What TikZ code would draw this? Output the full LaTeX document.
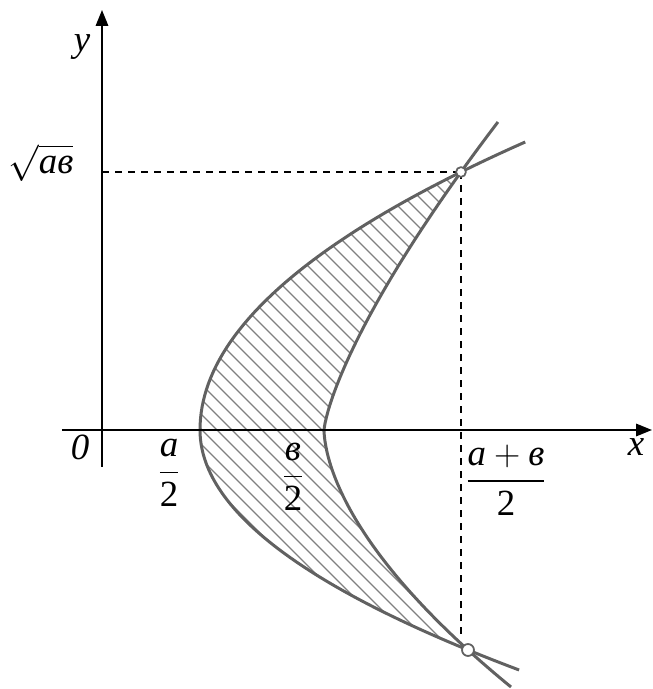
\documentclass[tikz,border=0pt]{standalone}
\usepackage{amsmath}
\usepackage{fontspec}
\setmainfont{Liberation Serif}
\usetikzlibrary{arrows.meta}
\begin{document}
\begin{tikzpicture}[x=0.02cm, y=0.02cm,
    >={Triangle[length=9pt,width=7pt]},
    axis/.style={line width=1.1pt},
    guide/.style={line width=0.8pt, dash pattern=on 4pt off 3.4pt},
    curve/.style={line width=1.7pt, draw=black!62, line join=round},
    hatch/.style={line width=0.7pt, draw=black!50},
    lbl/.style={inner sep=0pt, font=\fontsize{21}{25}\selectfont}]
  \useasboundingbox (-102,-259) rectangle (550,430);
  \coordinate (O) at (0,0);
  \coordinate (T) at (359,258);
  \coordinate (B) at (366,-220);
  \coordinate (H) at (0,258);
  \coordinate (F) at (359,-210);
  \coordinate (Ybot) at (0,-37);
  \coordinate (Ytop) at (0,420);
  \coordinate (Xleft) at (-40,0);
  \coordinate (Xright) at (550,0);

  % hatched region between the two curves
  \begin{scope}
    \clip plot[variable=\t, domain=-220:0, samples=50] ({98+55.4*(\t/100)^2},\t)
       -- plot[variable=\t, domain=0:258, samples=50] ({98+39.21*(\t/100)^2},\t)
       -- plot[variable=\t, domain=258:0.5, samples=50] ({222+38.1*(\t/100)^1.35},\t)
       -- plot[variable=\t, domain=-0.5:-220, samples=50] ({222+38.3*(abs(\t)/100)^1.68},\t)
       -- cycle;
    \foreach \c in {40,55,...,632}
      \draw[hatch] ({\c-300},300) -- ({\c+300},-300);
  \end{scope}

  % the two curves
  \draw[curve] plot[variable=\t, domain=-240:0, samples=50] ({98+55.4*(\t/100)^2},\t)
     -- plot[variable=\t, domain=0:288, samples=50] ({98+39.21*(\t/100)^2},\t);
  \draw[curve] plot[variable=\t, domain=-257:-0.5, samples=50] ({222+38.3*(abs(\t)/100)^1.68},\t)
     -- plot[variable=\t, domain=0.5:308, samples=50] ({222+38.1*(\t/100)^1.35},\t);

  % guides
  \draw[guide] (H) -- (T);
  \draw[guide] (T) -- (F);
  \draw[curve, line width=1pt, fill=white] (T) circle (2.8pt);
  \draw[curve, line width=1pt, fill=white] (B) circle (3.4pt);

  % axes
  \draw[axis, ->] (Ybot) -- (Ytop);
  \draw[axis, ->] (Xleft) -- (Xright);

  \node[lbl] (lblY) at (-20,383) {\textit{y}};
  \node[lbl] (lblX) at (534,-17) {\textit{x}};
  \node[lbl] (lblO) at (-22,-17) {\textit{0}};
  \node[lbl] (lblH) at (-61,267) {$\sqrt{\mbox{\itshape aв}}$};
  \node[lbl] (lblA) at (67,-43) {$\dfrac{\mbox{\itshape a}}{\mbox{2}}$};
  \node[lbl] (lblB) at (191,-47) {$\dfrac{\mbox{\itshape в}}{\mbox{2}}$};
  \node[lbl] (lblAB) at (404,-50) {$\dfrac{\mbox{\itshape a}+\mbox{\itshape в}}{\mbox{2}}$};
\end{tikzpicture}
\end{document}
